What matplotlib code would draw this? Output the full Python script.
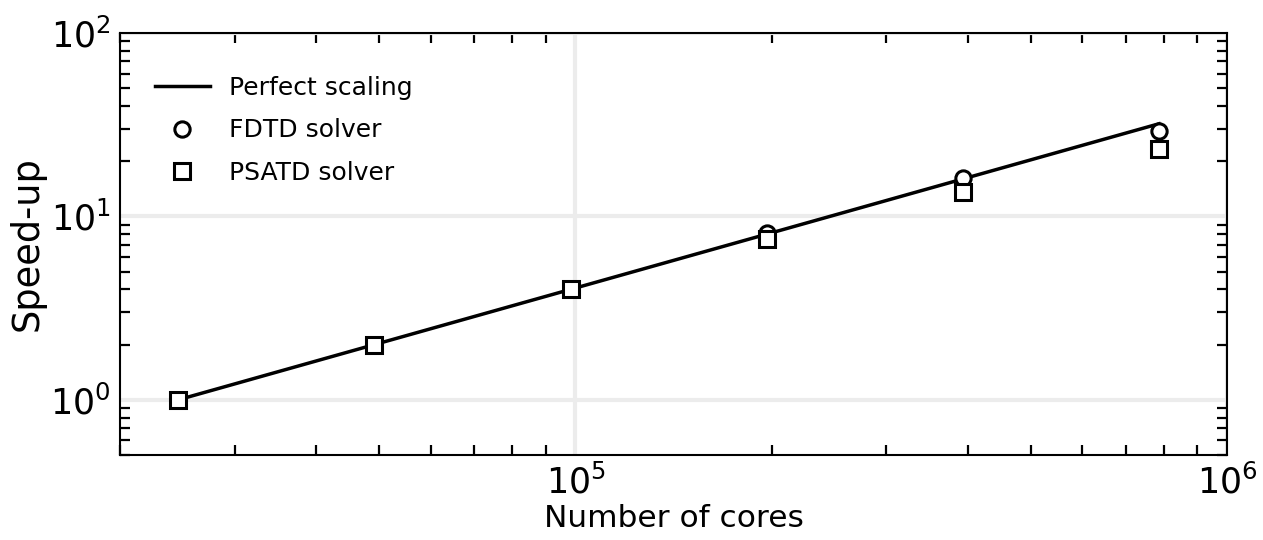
import matplotlib
matplotlib.use("Agg")
import matplotlib.pyplot as plt
from matplotlib.ticker import LogLocator

plt.rcParams['font.family'] = ['DejaVu Sans']

# strong scaling: number of cores vs speed-up relative to the smallest run
cores = [24576, 49152, 98304, 196608, 393216, 786432]
perfect = [1, 2, 4, 8, 16, 32]
fdtd = [1.0, 2.0, 4.0, 8.15, 16.1, 29.4]
psatd = [1.0, 2.0, 4.0, 7.5, 13.6, 23.2]

fig = plt.figure(figsize=(12.63, 5.4), dpi=100)
ax = fig.add_axes([120/1263, 1 - 455/540, (1227-120)/1263, (455-33)/540])

ax.plot(cores, perfect, color='k', lw=2.5, label='Perfect scaling', zorder=3)
ax.plot(cores, fdtd, ls='none', marker='o', ms=11, mfc='white', mec='k',
        mew=2.2, label='FDTD solver', zorder=4)
ax.plot(cores, psatd, ls='none', marker='s', ms=11.5, mfc='white', mec='k',
        mew=2.2, label='PSATD solver', zorder=5)

ax.set_xscale('log')
ax.set_yscale('log')
ax.set_xlim(2e4, 1e6)
ax.set_ylim(0.5, 100)

ax.xaxis.set_minor_locator(LogLocator(base=10, subs=range(2, 10)))
ax.yaxis.set_minor_locator(LogLocator(base=10, subs=range(2, 10)))

ax.grid(True, which='major', color='#ececec', lw=3, zorder=0)
ax.set_axisbelow(True)
ax.tick_params(which='major', direction='in', length=0, labelsize=25,
               pad=7, top=True, right=True)
ax.tick_params(which='minor', direction='in', length=7, width=1.6,
               top=True, right=True)
for s in ax.spines.values():
    s.set_linewidth(1.5)

ax.set_xlabel('Number of cores', fontsize=22.5, labelpad=2)
ax.set_ylabel('Speed-up', fontsize=26.5, labelpad=3)

ax.legend(loc='upper left', bbox_to_anchor=(-0.007, 1.0), frameon=False,
          fontsize=18, handlelength=2.2, handletextpad=0.75,
          borderaxespad=1.3, labelspacing=0.75)

fig.savefig('out.png', dpi=100)
